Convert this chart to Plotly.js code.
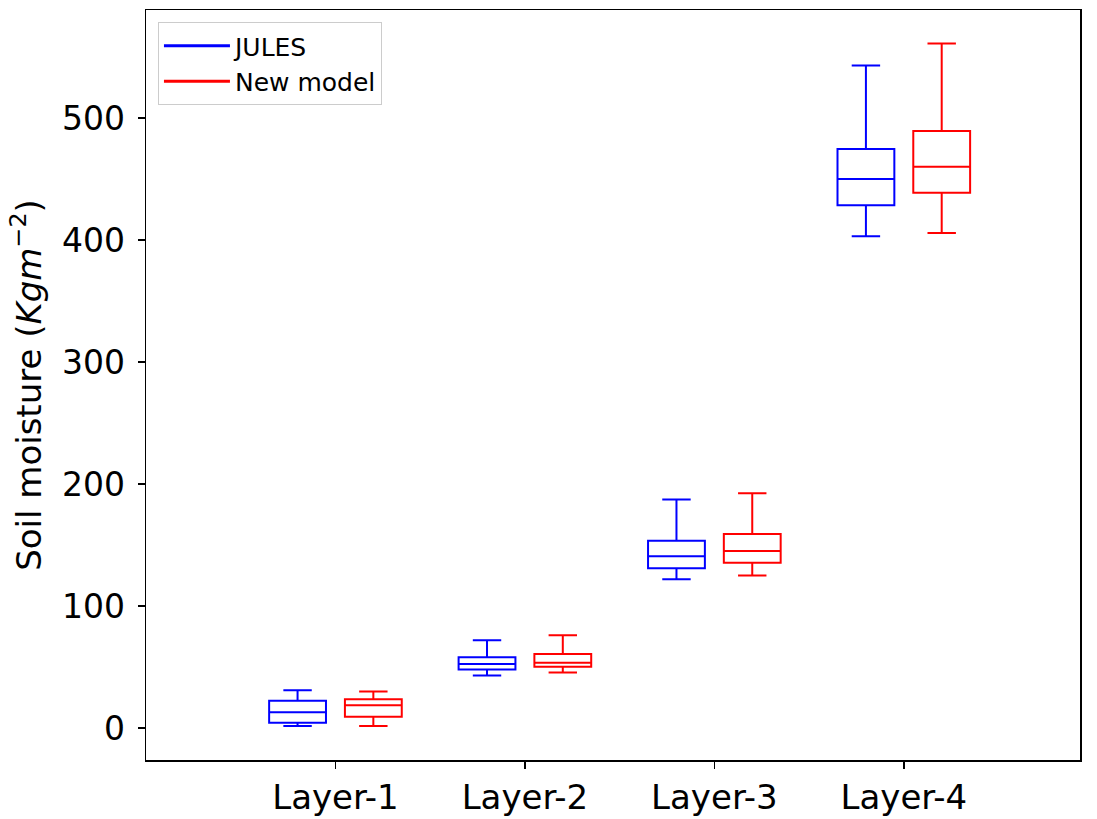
<!DOCTYPE html>
<html>
<head>
<meta charset="utf-8">
<script src="https://cdn.plot.ly/plotly-3.0.1.min.js"></script>
<style>html,body{margin:0;padding:0;background:#fff;}#chart{width:1097px;height:819px;}</style>
</head>
<body>
<div id="chart"></div>
<script>
const categories = ["Layer-1", "Layer-2", "Layer-3", "Layer-4"];
const seriesNames = ["JULES", "New model"];

// JULES statistics per layer
const julesLower  = [1.6, 43, 122, 403];
const julesQ1     = [4.4, 48, 131, 428.4];
const julesMedian = [13, 52.5, 140.7, 450];
const julesQ3     = [22.4, 58, 153.5, 474.6];
const julesUpper  = [31, 72, 187.4, 543];

// New model statistics per layer
const newLower  = [1.6, 45.6, 125, 405.7];
const newQ1     = [9.3, 50.3, 135.5, 438.8];
const newMedian = [18.6, 53.5, 145, 460];
const newQ3     = [23.5, 60.7, 159, 489.3];
const newUpper  = [30, 76, 192.4, 561];

const idx = categories.map((c, i) => i);
const offset = 0.2;

function boxTrace(name, color, shift, lo, q1, med, q3, hi) {
  return {
    type: "box",
    name: name,
    x: idx.map(i => i + shift),
    lowerfence: lo, q1: q1, median: med, q3: q3, upperfence: hi,
    width: 0.3,
    whiskerwidth: 0.5,
    line: {color: color, width: 2},
    fillcolor: "rgba(0,0,0,0)",
    boxpoints: false,
    showlegend: false,
    hoverinfo: "skip"
  };
}

const data = [
  boxTrace(seriesNames[0], "#0000ff", -offset, julesLower, julesQ1, julesMedian, julesQ3, julesUpper),
  boxTrace(seriesNames[1], "#ff0000", offset, newLower, newQ1, newMedian, newQ3, newUpper),
  {type: "scatter", mode: "lines", x: [null], y: [null], name: seriesNames[0], line: {color: "#0000ff", width: 3}},
  {type: "scatter", mode: "lines", x: [null], y: [null], name: seriesNames[1], line: {color: "#ff0000", width: 3}}
];

const layout = {
  width: 1097, height: 819,
  margin: {l: 146, r: 17, t: 10, b: 59},
  paper_bgcolor: "#fff", plot_bgcolor: "#fff",
  font: {family: "DejaVu Sans", color: "#000"},
  showlegend: true,
  legend: {
    x: 0.0128, y: 0.984, xanchor: "left", yanchor: "top",
    bgcolor: "rgba(255,255,255,0.9)", bordercolor: "#cccccc", borderwidth: 1,
    font: {size: 25, family: "DejaVu Sans"},
    itemwidth: 66,
    tracegroupgap: 0
  },
  xaxis: {
    range: [-1, 3.93],
    tickvals: idx, ticktext: categories,
    tickfont: {size: 34},
    ticks: "outside", ticklen: 7, tickwidth: 1.5, tickcolor: "#000",
    showline: true, linecolor: "#000", linewidth: 1.5, mirror: true,
    showgrid: false, zeroline: false
  },
  yaxis: {
    range: [-26.2, 588.5],
    tickvals: [0, 100, 200, 300, 400, 500],
    tickfont: {size: 33},
    ticks: "outside", ticklen: 7, tickwidth: 1.5, tickcolor: "#000",
    ticklabelstandoff: 6,
    showline: true, linecolor: "#000", linewidth: 1.5, mirror: true,
    showgrid: false, zeroline: false,
    title: {text: "Soil moisture (<i>Kgm</i><sup>−2</sup>)", font: {size: 34}, standoff: 10}
  }
};

Plotly.newPlot("chart", data, layout, {displayModeBar: false, staticPlot: true});
</script>
</body>
</html>
